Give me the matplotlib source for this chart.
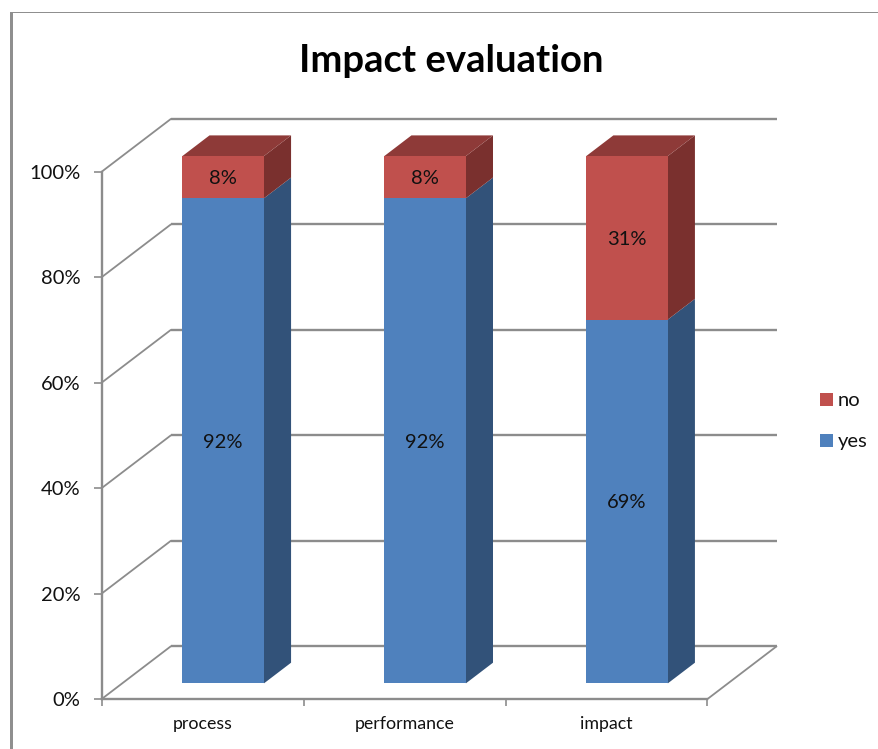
import matplotlib
matplotlib.use("Agg")
import matplotlib.pyplot as plt
from matplotlib.patches import Polygon, Rectangle

plt.rcParams['font.family'] = ['Lato', 'DejaVu Sans']

categories = ["process", "performance", "impact"]
yes_values = [92, 92, 69]
no_values = [8, 8, 31]
y_ticks = [0, 20, 40, 60, 80, 100]
series_names = ["no", "yes"]

WIDTH, HEIGHT = 879, 749
BLUE, BLUE_SIDE = "#4F81BD", "#325279"
RED, RED_SIDE, RED_TOP = "#C0504D", "#7A302E", "#8E3A38"
GRID = "#8C8C8C"

fig = plt.figure(figsize=(WIDTH / 100, HEIGHT / 100), dpi=100, facecolor="white")

# Outer chart frame, heavier on the left edge
fig.add_artist(Rectangle((10 / WIDTH, 0), 2.6 / WIDTH, 1 - 12 / HEIGHT,
                         transform=fig.transFigure, fc="#8F8F8F", ec="none"))
fig.add_artist(Rectangle((10 / WIDTH, 1 - 13.2 / HEIGHT), 869 / WIDTH, 1.2 / HEIGHT,
                         transform=fig.transFigure, fc="#8F8F8F", ec="none"))

# Axes span the front plane of the oblique chart box
left, right, bottom_px, top_px = 101.7, 707.5, 699, 171.7
ax = fig.add_axes([left / WIDTH, 1 - bottom_px / HEIGHT,
                   (right - left) / WIDTH, (bottom_px - top_px) / HEIGHT])
ax.set_xlim(-0.5, 2.5)
ax.set_ylim(0, 100)
ax.patch.set_alpha(0)

px_per_cat = (right - left) / 3
px_per_pct = (bottom_px - top_px) / 100
DEPTH_X = 69.5 / px_per_cat
DEPTH_Y = 53 / px_per_pct


def project(x, value, depth):
    """Map a category position, value and depth (0 front, 1 back) to data space."""
    return x + depth * DEPTH_X, value + depth * DEPTH_Y


def wall_line(points, **kw):
    xs, ys = zip(*points)
    ax.plot(xs, ys, color=GRID, solid_capstyle="butt", clip_on=False, zorder=1, **kw)


# Back wall gridlines and side wall diagonals
for tick in y_ticks:
    wall_line([project(-0.5, tick, 1), project(2.5, tick, 1)], lw=1.7)
    wall_line([project(-0.5, tick, 0), project(-0.5, tick, 1)], lw=1.3)
wall_line([project(2.5, 0, 0), project(2.5, 0, 1)], lw=1.3)


def face(points, color, z):
    ax.add_patch(Polygon(points, closed=True, fc=color, ec="none", clip_on=False, zorder=z))


# Stacked columns: front, side and top faces
BAR_HALF = 0.202
D0, D1 = 0.295, 0.685
for i, (yes, no) in enumerate(zip(yes_values, no_values)):
    xl, xr = i - BAR_HALF, i + BAR_HALF
    total = yes + no
    z = 3 + i
    face([project(xr, 0, D0), project(xr, 0, D1), project(xr, yes, D1), project(xr, yes, D0)], BLUE_SIDE, z)
    face([project(xr, yes, D0), project(xr, yes, D1), project(xr, total, D1), project(xr, total, D0)], RED_SIDE, z)
    face([project(xl, total, D0), project(xr, total, D0), project(xr, total, D1), project(xl, total, D1)], RED_TOP, z)
    face([project(xl, 0, D0), project(xr, 0, D0), project(xr, yes, D0), project(xl, yes, D0)], BLUE, z)
    face([project(xl, yes, D0), project(xr, yes, D0), project(xr, total, D0), project(xl, total, D0)], RED, z)
    for start, val in ((0, yes), (yes, no)):
        ax.annotate(f"{val}%", project(i, start + val / 2, D0), xytext=(0, -1),
                    textcoords="offset points", ha="center", va="center", fontsize=14.5,
                    color="#111111", zorder=10, annotation_clip=False)

# Axis styling
for side in ("top", "right"):
    ax.spines[side].set_visible(False)
for side in ("left", "bottom"):
    ax.spines[side].set_color(GRID)
    ax.spines[side].set_linewidth(1.7)
ax.set_yticks(y_ticks)
ax.set_yticklabels([f"{t}%" for t in y_ticks], fontsize=14.5, color="#111111")
ax.tick_params(axis="y", length=5.5, width=1.2, color=GRID, pad=10)
ax.set_xticks([-0.5, 0.5, 1.5, 2.5])
ax.set_xticklabels([])
ax.set_xticks([0, 1, 2], minor=True)
ax.set_xticklabels(categories, minor=True, fontsize=12.8, color="#111111")
ax.tick_params(axis="x", which="major", length=5, width=1.2, color=GRID)
ax.tick_params(axis="x", which="minor", length=0, pad=12)

# Title and legend in figure pixels
fig.text(451 / WIDTH, 1 - 60.5 / HEIGHT, "Impact evaluation", ha="center", va="center",
         fontsize=27.5, fontweight="bold", color="black")
for name, color, y in zip(series_names, (RED, BLUE), (399.5, 441)):
    fig.add_artist(Rectangle((820 / WIDTH, 1 - (y + 6.5) / HEIGHT), 13 / WIDTH, 13 / HEIGHT,
                             transform=fig.transFigure, fc=color, ec="none"))
    fig.text(838 / WIDTH, 1 - (y + 1) / HEIGHT, name, ha="left", va="center", fontsize=14.5, color="#111111")

fig.savefig("out.png", dpi=100, facecolor="white")
